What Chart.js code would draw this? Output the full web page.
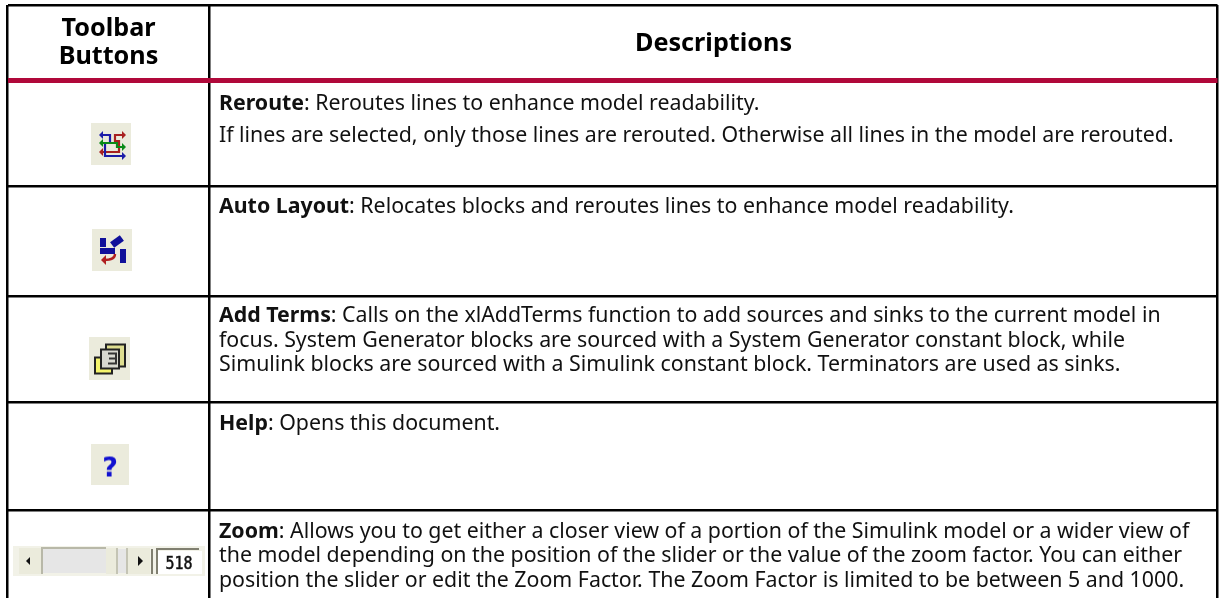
<!DOCTYPE html>
<html>
<head>
<meta charset="utf-8">
<style>html,body{margin:0;padding:0;background:#fff}canvas{display:block}</style>
<script src="https://cdn.jsdelivr.net/npm/chart.js@4"></script>
</head>
<body>
<canvas id="c" width="1219" height="598"></canvas>
<script>
// table content
var headerLeft = ["Toolbar", "Buttons"];
var headerRight = "Descriptions";
var buttonNames = ["Reroute", "Auto Layout", "Add Terms", "Help", "Zoom"];
var descriptions = [
    [[["Reroute", 1], [": Reroutes lines to enhance model readability.", 0]],
     [["If lines are selected, only those lines are rerouted. Otherwise all lines in the model are rerouted.", 0]]],
    [[["Auto Layout", 1], [": Relocates blocks and reroutes lines to enhance model readability.", 0]]],
    [[["Add Terms", 1], [": Calls on the xlAddTerms function to add sources and sinks to the current model in", 0]],
     [["focus. System Generator blocks are sourced with a System Generator constant block, while", 0]],
     [["Simulink blocks are sourced with a Simulink constant block. Terminators are used as sinks.", 0]]],
    [[["Help", 1], [": Opens this document.", 0]]],
    [[["Zoom", 1], [": Allows you to get either a closer view of a portion of the Simulink model or a wider view of", 0]],
     [["the model depending on the position of the slider or the value of the zoom factor. You can either", 0]],
     [["position the slider or edit the Zoom Factor. The Zoom Factor is limited to be between 5 and 1000.", 0]]]
];
var zoomValue = "518";

// table rules on the page
var colEdges = [7.5, 209.5, 1217.5];
var rowEdges = [5, 80.8, 186, 296, 402, 510];
var rowBaselines = [[109.5, 142], [213], [322, 347, 371], [430], [538, 562, 587]];
var iconRows = [144, 250, 358, 464, 561];
var iconCols = [111, 112, 109.5, 110, 109];

// small toolbar bitmaps, softened a little like the scaled screenshots
function icon(w, h, draw) {
    var raw = document.createElement("canvas");
    raw.width = w; raw.height = h;
    var g = raw.getContext("2d");
    g.fillStyle = "#ebebdc";
    g.fillRect(0, 0, w, h);
    draw(g);
    var cv = document.createElement("canvas");
    cv.width = w; cv.height = h;
    var o = cv.getContext("2d");
    o.filter = "blur(0.5px)";
    o.drawImage(raw, 0, 0);
    return cv;
}
function path(g, color, lw, pts) {
    g.strokeStyle = color; g.lineWidth = lw; g.lineJoin = "miter";
    g.beginPath();
    pts.forEach(function (p, i) { if (i) g.lineTo(p[0], p[1]); else g.moveTo(p[0], p[1]); });
    g.stroke();
}
function tri(g, color, x, y, dir, s) {
    g.fillStyle = color;
    g.beginPath();
    g.moveTo(x + dir * s, y); g.lineTo(x, y - s); g.lineTo(x, y + s);
    g.closePath(); g.fill();
}
var rerouteIcon = icon(40, 42, function (g) {
    var blue = "#1c1ca8", red = "#a82020", green = "#0a8a18";
    path(g, red, 2.2, [[32, 12], [24, 12], [24, 18], [28, 18], [28, 29], [10, 29]]);
    tri(g, red, 31, 12, 1, 4); tri(g, red, 12, 29, -1, 4);
    path(g, blue, 2.2, [[11, 12], [19, 12], [19, 20], [14, 20], [14, 33], [32, 33]]);
    tri(g, blue, 12, 12, -1, 4); tri(g, blue, 31, 33, 1, 4);
    path(g, green, 2.2, [[11, 20], [26, 20], [26, 24], [32, 24]]);
    tri(g, green, 12, 20, -1, 4); tri(g, green, 31, 24, 1, 4);
});
var layoutIcon = icon(40, 42, function (g) {
    g.fillStyle = "#10109a";
    g.fillRect(8, 9, 6, 9);
    g.fillRect(8, 19, 15, 6);
    g.fillRect(28, 20, 6, 14);
    g.save(); g.translate(25, 12.5); g.rotate(-Math.PI / 5); g.fillRect(-6, -3.5, 12, 7); g.restore();
    g.strokeStyle = "#b02020"; g.lineWidth = 2.4;
    g.beginPath(); g.moveTo(23, 25); g.quadraticCurveTo(23, 31, 12, 31); g.stroke();
    tri(g, "#b02020", 14, 31, -1, 5);
});
var termsIcon = icon(41, 43, function (g) {
    g.lineWidth = 2; g.strokeStyle = "#222";
    g.fillStyle = "#dede90"; g.fillRect(17, 8, 19, 22); g.strokeRect(17, 8, 19, 22);
    g.fillStyle = "#f4f46c"; g.fillRect(6, 21, 17, 16); g.strokeRect(6, 21, 17, 16);
    g.fillStyle = "#d8d8d0"; g.fillRect(12, 13, 18, 19); g.strokeRect(12, 13, 18, 19);
    path(g, "#333", 2, [[19, 17], [27, 17], [27, 27], [19, 27]]);
    path(g, "#333", 2, [[20, 22], [27, 22]]);
});
var helpIcon = icon(38, 41, function (g) {
    g.fillStyle = "#1010d0";
    g.font = "bold 27px 'DejaVu Sans'";
    g.textAlign = "center"; g.textBaseline = "alphabetic";
    g.fillText("?", 19, 33);
});
var sliderIcon = icon(192, 30, function (g) {
    g.fillStyle = "#f2f2e8"; g.fillRect(0, 0, 192, 30);
    g.fillStyle = "#e6e6e6"; g.fillRect(30, 3, 84, 24);
    g.fillStyle = "#ebebdc"; g.fillRect(6, 2, 22, 26); g.fillRect(93, 2, 11, 26); g.fillRect(115, 2, 22, 26);
    path(g, "#b8b8a8", 2, [[29, 28], [29, 2], [93, 2]]);
    path(g, "#c4c4b4", 2, [[104, 28], [104, 2]]);
    path(g, "#c4c4b4", 2, [[114, 28], [114, 2]]);
    path(g, "#807f70", 2, [[139, 28], [139, 3]]);
    path(g, "#807f70", 2, [[144, 28], [144, 3], [186, 3]]);
    g.fillStyle = "#fff"; g.fillRect(145, 5, 44, 23);
    tri(g, "#111", 17, 15, -1, 4);
    tri(g, "#111", 125, 15, 1, 5);
    g.fillStyle = "#111";
    g.strokeStyle = "#111";
    g.lineWidth = 0.5;
    g.font = "17px 'DejaVu Sans Mono'";
    g.textAlign = "center";
    g.save();
    g.translate(166, 23);
    g.scale(0.88, 1);
    g.fillText(zoomValue, 0, 0);
    g.strokeText(zoomValue, 0, 0);
    g.restore();
});
var icons = [rerouteIcon, layoutIcon, termsIcon, helpIcon, sliderIcon];

var tablePlugin = {
    id: "tableText",
    afterDraw: function (chart) {
        var ctx = chart.ctx, xs = chart.scales.x, ys = chart.scales.y;
        ctx.save();
        ctx.textBaseline = "alphabetic";
        ctx.fillStyle = "#000";
        ctx.font = "bold 25.2px 'Noto Sans'";
        ctx.textAlign = "center";
        var midLeft = xs.getPixelForValue((colEdges[0] + colEdges[1]) / 2);
        ctx.fillText(headerLeft[0], midLeft, ys.getPixelForValue(36));
        ctx.fillText(headerLeft[1], midLeft, ys.getPixelForValue(64));
        ctx.fillText(headerRight, xs.getPixelForValue((colEdges[1] + colEdges[2]) / 2), ys.getPixelForValue(51));

        ctx.textAlign = "left";
        ctx.fillStyle = "#111";
        descriptions.forEach(function (lines, r) {
            lines.forEach(function (runs, l) {
                var x = xs.getPixelForValue(219);
                var y = ys.getPixelForValue(rowBaselines[r][l]);
                runs.forEach(function (run) {
                    ctx.font = (run[1] ? "bold " : "") + "21.33px 'Noto Sans'";
                    ctx.fillText(run[0], x, y);
                    x += ctx.measureText(run[0]).width;
                });
            });
        });
        ctx.restore();
    }
};

new Chart(document.getElementById("c").getContext("2d"), {
    type: "scatter",
    data: {
        datasets: [{
            label: "Toolbar buttons",
            data: buttonNames.map(function (name, i) { return { x: iconCols[i], y: iconRows[i], name: name }; }),
            pointStyle: icons,
            pointRadius: 1,
            showLine: false
        }]
    },
    options: {
        responsive: false,
        animation: false,
        events: [],
        layout: {
            autoPadding: false,
            padding: { left: colEdges[0], right: 1219 - colEdges[2], top: rowEdges[0], bottom: 0 }
        },
        plugins: { legend: { display: false }, tooltip: { enabled: false }, title: { display: false } },
        scales: {
            x: {
                type: "linear", min: colEdges[0], max: colEdges[2],
                ticks: { display: false },
                border: { display: false },
                afterBuildTicks: function (axis) { axis.ticks = colEdges.map(function (v) { return { value: v }; }); },
                grid: { color: "#000", lineWidth: 2.5, drawTicks: false }
            },
            y: {
                type: "linear", min: rowEdges[0], max: 598, reverse: true,
                ticks: { display: false },
                border: { display: false },
                afterBuildTicks: function (axis) { axis.ticks = rowEdges.map(function (v) { return { value: v }; }); },
                grid: {
                    drawTicks: false,
                    color: function (c) { return c.index === 1 ? "#b0083a" : "#000"; },
                    lineWidth: function (c) { return c.index === 1 ? 5 : 2.5; }
                }
            }
        }
    },
    plugins: [tablePlugin]
});
</script>
</body>
</html>
